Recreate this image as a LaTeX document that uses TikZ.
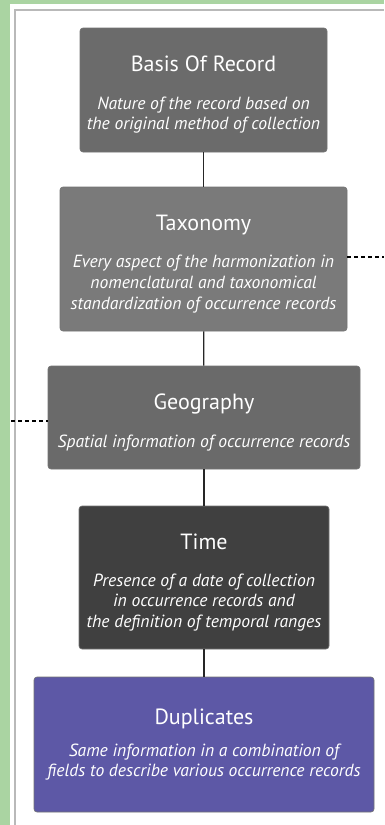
\documentclass[tikz,border=0pt]{standalone}
\usepackage{fontspec}
\setmainfont{PT Sans}
\definecolor{framegreen}{RGB}{170,212,162}
\definecolor{framegrey}{RGB}{185,185,185}
\definecolor{basisgrey}{RGB}{107,107,107}
\definecolor{taxgrey}{RGB}{122,122,122}
\definecolor{geogrey}{RGB}{106,106,106}
\definecolor{timegrey}{RGB}{64,64,64}
\definecolor{duppurple}{RGB}{93,88,166}
\tikzset{
  stepbox/.style={draw=black!55,line width=0.6pt,rounded corners=3pt,inner sep=0pt},
  boxtitle/.style={text=white,anchor=mid,inner sep=0pt,font=\fontsize{22}{24}\selectfont},
  boxtext/.style={text=white,anchor=north,align=center,inner sep=0pt,font=\fontsize{17.6}{20.5}\selectfont\itshape},
  link/.style={line width=1.2pt,black!85},
  hint/.style={line width=1.3pt,dashed,dash pattern=on 4pt off 3pt}
}
\begin{document}
\begin{tikzpicture}[x=1pt,y=-1pt]
\useasboundingbox (0,0) rectangle (384,825);
\fill[framegreen] (0,0) rectangle (384,825);
\fill[white] (10,4) rectangle (384,825);
\draw[framegrey,line width=1.5pt] (15,825) -- (15,10) -- (384,10);
\node[stepbox,fill=basisgrey,minimum width=247pt,minimum height=124pt] (v1) at (203.5,90) {};
\node[boxtitle] (t1) at ([yshift=-41.5pt]v1.north) {Basis Of Record};
\node[boxtext] (d1) at ([yshift=-69pt]v1.north) {Nature of the record based on\\the original method of collection};
\node[stepbox,fill=taxgrey,minimum width=287pt,minimum height=144pt] (v2) at (203.5,259) {};
\node[boxtitle] (t2) at ([yshift=-41.5pt]v2.north) {Taxonomy};
\node[boxtext,font=\fontsize{17.6}{21}\selectfont\itshape] (d2) at ([yshift=-68pt]v2.north) {Every aspect of the harmonization in\\nomenclatural and taxonomical\\standardization of occurrence records};
\node[stepbox,fill=geogrey,minimum width=312pt,minimum height=103pt] (v3) at (204,417.5) {};
\node[boxtitle] (t3) at ([yshift=-41pt]v3.north) {Geography};
\node[boxtext] (d3) at ([yshift=-69.5pt]v3.north) {Spatial information of occurrence records};
\node[stepbox,fill=timegrey,minimum width=250pt,minimum height=143pt] (v4) at (204,577.5) {};
\node[boxtitle] (t4) at ([yshift=-41pt]v4.north) {Time};
\node[boxtext] (d4) at ([yshift=-68pt]v4.north) {Presence of a date of collection\\in occurrence records and\\the definition of temporal ranges};
\node[stepbox,fill=duppurple,minimum width=340pt,minimum height=135pt] (v5) at (204,744.5) {};
\node[boxtitle] (t5) at ([yshift=-45pt]v5.north) {Duplicates};
\node[boxtext] (d5) at ([yshift=-67pt]v5.north) {Same information in a combination of\\fields to describe various occurrence records};
\coordinate (c1) at (384,257);
\coordinate (c2) at (11,421);
\draw[link] (v1) -- (v2);
\draw[link] (v2) -- (v3);
\draw[link] (v3) -- (v4);
\draw[link] (v4) -- (v5);
\draw[hint] (v2.east |- c1) -- (c1);
\draw[hint] (c2) -- (v3.west |- c2);
\end{tikzpicture}
\end{document}
